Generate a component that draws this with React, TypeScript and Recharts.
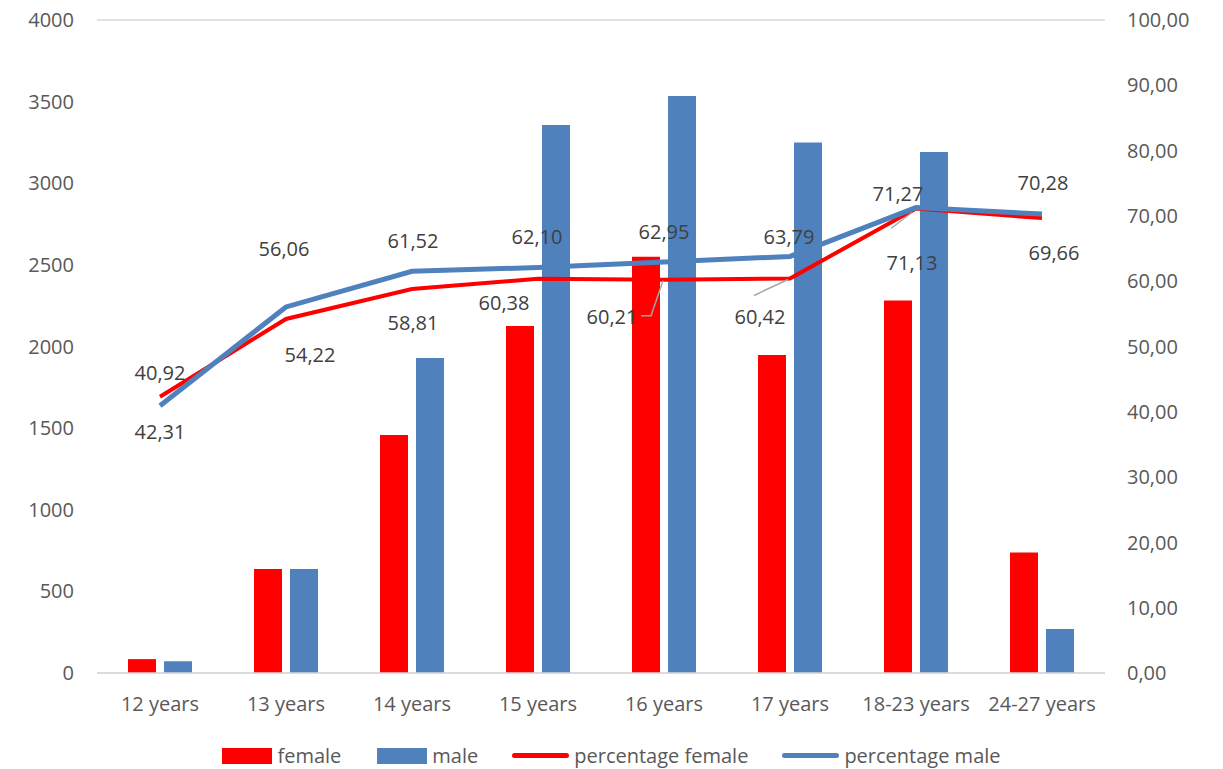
import React from "react";
import {
  Bar,
  CartesianGrid,
  ComposedChart,
  LabelList,
  Legend,
  Line,
  XAxis,
  YAxis,
} from "recharts";

const categories = ["12 years", "13 years", "14 years", "15 years", "16 years", "17 years", "18-23 years", "24-27 years"];
const female = [85, 637, 1458, 2126, 2550, 1948, 2282, 738];
const male = [72, 637, 1930, 3357, 3534, 3250, 3191, 270];
const pctFemale = [42.31, 54.22, 58.81, 60.38, 60.21, 60.42, 71.13, 69.66];
const pctMale = [40.92, 56.06, 61.52, 62.1, 62.95, 63.79, 71.27, 70.28];
const leftTicks = [0, 500, 1000, 1500, 2000, 2500, 3000, 3500, 4000];
const rightTicks = [0, 10, 20, 30, 40, 50, 60, 70, 80, 90, 100];

const data = categories.map((c, i) => ({
  name: c,
  female: female[i],
  male: male[i],
  pf: pctFemale[i],
  pm: pctMale[i],
}));

// label placement relative to the line point (dx, dy) plus optional leader line
type LabelPos = { dx: number; dy: number; leader?: [number, number][] };

const femaleLabelPos: LabelPos[] = [
  { dx: 0, dy: 35 },
  { dx: 24, dy: 36 },
  { dx: 1, dy: 34 },
  { dx: -34, dy: 24 },
  { dx: -52, dy: 37, leader: [[-23, 36], [-13, 36], [-1, 1]] },
  { dx: -30, dy: 38, leader: [[-36, 17], [-2, 1]] },
  { dx: -4, dy: 54, leader: [[-25, 20], [-4, 4]] },
  { dx: 12, dy: 34 },
];

const maleLabelPos: LabelPos[] = [
  { dx: 0, dy: -33 },
  { dx: -2, dy: -58 },
  { dx: 1, dy: -31 },
  { dx: -1, dy: -31 },
  { dx: 0, dy: -30 },
  { dx: -1, dy: -20 },
  { dx: -18, dy: -14 },
  { dx: 1, dy: -32 },
];

const FONT = "'Open Sans', 'Noto Sans', sans-serif";
const fmt = (v: number) => v.toFixed(2).replace(".", ",");

function PctLabel(props: any) {
  const { x, y, value, index, positions } = props;
  const pos: LabelPos = positions[index];
  if (x == null || y == null) return null;
  return (
    <g>
      {pos.leader && (
        <polyline
          points={pos.leader.map(([a, b]) => `${x + a},${y + b}`).join(" ")}
          fill="none"
          stroke="#a6a6a6"
          strokeWidth={1.5}
        />
      )}
      <text
        x={x + pos.dx}
        y={y + pos.dy}
        textAnchor="middle"
        dominantBaseline="central"
        fontSize={20}
        fontFamily={FONT}
        fill="#404040"
      >
        {fmt(Number(value))}
      </text>
    </g>
  );
}

function ChartLegend() {
  const item = (marker: React.ReactNode, label: string, gap: number) => (
    <div style={{ display: "flex", alignItems: "center", marginRight: gap }}>
      {marker}
      <span style={{ marginLeft: 5, fontSize: 20, color: "#595959", fontFamily: FONT }}>{label}</span>
    </div>
  );
  const rect = (c: string) => <div style={{ width: 50, height: 16, background: c }} />;
  const line = (c: string) => <div style={{ width: 57, height: 5, borderRadius: 3, background: c }} />;
  return (
    <div
      style={{
        height: 56,
        display: "flex",
        justifyContent: "center",
        alignItems: "flex-end",
        paddingBottom: 0,
        boxSizing: "border-box",
      }}
    >
      {item(rect("#ff0000"), "female", 36)}
      {item(rect("#4f81bd"), "male", 34)}
      {item(line("#ff0000"), "percentage female", 34)}
      {item(line("#4f81bd"), "percentage male", 0)}
    </div>
  );
}

export default function App() {
  return (
    <div style={{ position: "absolute", left: 0, top: 0, background: "#fff" }}>
      <ComposedChart
        width={1223}
        height={769}
        data={data}
        margin={{ top: 20, right: 0, bottom: 0, left: 0 }}
        barSize={28}
        barGap={8}
      >
        <CartesianGrid vertical={false} stroke="#d9d9d9" strokeWidth={1.5} />
        <XAxis
          dataKey="name"
          height={40}
          tickLine={false}
          axisLine={{ stroke: "#d9d9d9", strokeWidth: 1.5 }}
          tickMargin={18}
          tick={{ fill: "#595959", fontSize: 20, fontFamily: FONT }}
        />
        <YAxis
          yAxisId="left"
          width={97}
          domain={[0, 4000]}
          ticks={leftTicks}
          tickLine={false}
          axisLine={false}
          tickMargin={17}
          tick={{ fill: "#595959", fontSize: 20, fontFamily: FONT }}
        />
        <YAxis
          yAxisId="right"
          orientation="right"
          width={118}
          domain={[0, 100]}
          ticks={rightTicks}
          tickFormatter={fmt}
          tickLine={false}
          axisLine={false}
          tickMargin={16}
          tick={{ fill: "#595959", fontSize: 20, fontFamily: FONT, textAnchor: "start" }}
        />
        <Legend verticalAlign="bottom" height={56} content={() => <ChartLegend />} />
        <Bar yAxisId="left" dataKey="female" name="female" fill="#ff0000" isAnimationActive={false} />
        <Bar yAxisId="left" dataKey="male" name="male" fill="#4f81bd" isAnimationActive={false} />
        <Line
          yAxisId="right"
          type="linear"
          dataKey="pf"
          name="percentage female"
          stroke="#ff0000"
          strokeWidth={4}
          dot={false}
          isAnimationActive={false}
        >
          <LabelList dataKey="pf" content={(p: any) => <PctLabel {...p} positions={femaleLabelPos} />} />
        </Line>
        <Line
          yAxisId="right"
          type="linear"
          dataKey="pm"
          name="percentage male"
          stroke="#4f81bd"
          strokeWidth={5}
          dot={false}
          isAnimationActive={false}
        >
          <LabelList dataKey="pm" content={(p: any) => <PctLabel {...p} positions={maleLabelPos} />} />
        </Line>
      </ComposedChart>
    </div>
  );
}
